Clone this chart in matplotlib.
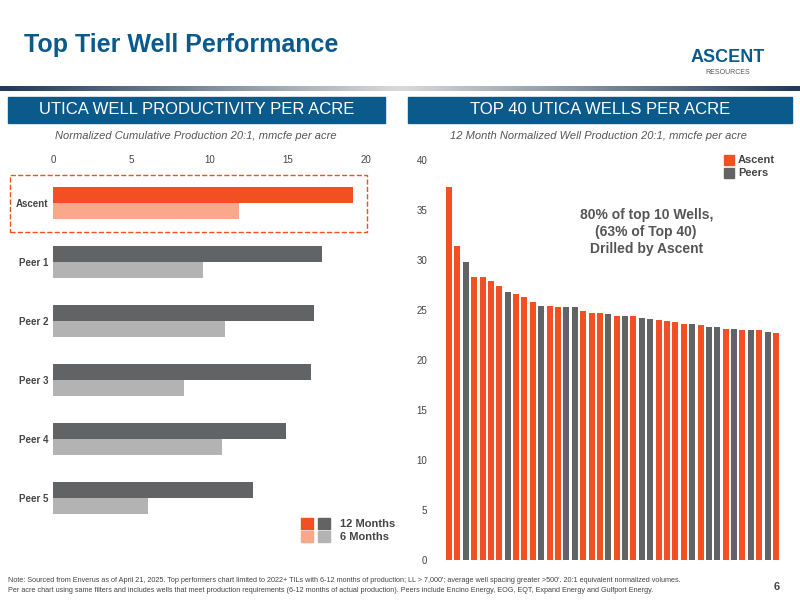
import matplotlib
matplotlib.use('Agg')
import matplotlib.pyplot as plt
import numpy as np
from matplotlib.patches import Rectangle

plt.rcParams['font.family'] = ['Liberation Sans', 'DejaVu Sans']

ORANGE = '#f25022'
LORANGE = '#f9a88c'
DGRAY = '#616365'
LGRAY = '#b3b3b3'
BLUE = '#0b5a8c'

# left chart
groups = ['Ascent', 'Peer 1', 'Peer 2', 'Peer 3', 'Peer 4', 'Peer 5']
m12 = [19.2, 17.2, 16.7, 16.5, 14.9, 12.8]
m6 = [11.9, 9.6, 11.0, 8.4, 10.8, 6.1]

# right chart
wells = [37.3, 31.4, 29.8, 28.3, 28.3, 27.9, 27.4, 26.8, 26.6, 26.3,
         25.8, 25.4, 25.4, 25.3, 25.3, 25.3, 24.9, 24.7, 24.7, 24.6,
         24.4, 24.4, 24.4, 24.2, 24.1, 24.0, 23.9, 23.8, 23.6, 23.6,
         23.5, 23.3, 23.3, 23.1, 23.1, 23.0, 23.0, 23.0, 22.8, 22.7]
owner = list('AAPAAAAPAAAPAAPPAAAPAPAPPAAAAPAPPAPAPAPA')

W, H = 800, 600
fig = plt.figure(figsize=(8, 6), dpi=100)

def ax_px(x0, y0, x1, y1):
    return fig.add_axes([x0 / W, 1 - y1 / H, (x1 - x0) / W, (y1 - y0) / H])

# header
fig.text(24 / W, 1 - 45 / H, 'Top Tier Well Performance', fontsize=18, fontweight='bold',
         color=BLUE, va='center')
fig.text(728 / W, 1 - 58 / H, 'ASCENT', fontsize=13, fontweight='bold', color=BLUE, ha='center', va='center')
fig.text(728 / W, 1 - 72 / H, 'RESOURCES', fontsize=5, color='#555555', ha='center', va='center')
gax = ax_px(0, 86, 800, 91)
grad = np.abs(np.linspace(-1, 1, 300))
gax.imshow(grad[None, :], aspect='auto', cmap=matplotlib.colors.LinearSegmentedColormap.from_list('g', ['#d9d9d9', '#1f3a5a']))
gax.axis('off')

for x0, x1, t in [(8, 385, 'UTICA WELL PRODUCTIVITY PER ACRE'), (408, 792, 'TOP 40 UTICA WELLS PER ACRE')]:
    fig.patches.append(Rectangle((x0 / W, 1 - 123 / H), (x1 - x0) / W, 26 / H, transform=fig.transFigure,
                                 color=BLUE))
    fig.text((x0 + x1) / 2 / W, 1 - 110 / H, t, fontsize=12, color='white', ha='center', va='center')
fig.text(196 / W, 1 - 136 / H, 'Normalized Cumulative Production 20:1, mmcfe per acre',
         fontsize=8, style='italic', color='#555555', ha='center', va='center')
fig.text(598 / W, 1 - 136 / H, '12 Month Normalized Well Production 20:1, mmcfe per acre',
         fontsize=8, style='italic', color='#555555', ha='center', va='center')

# left bar chart
ax = ax_px(53, 170, 380, 525)
y = np.arange(len(groups))
h = 0.27
for i in range(len(groups)):
    c1, c2 = (ORANGE, LORANGE) if i == 0 else (DGRAY, LGRAY)
    ax.barh(i - h / 2, m12[i], height=h, color=c1)
    ax.barh(i + h / 2, m6[i], height=h, color=c2)
ax.set_xlim(0, 20.9)
ax.set_ylim(len(groups) - 0.55, -0.55)
ax.set_yticks(y)
ax.set_yticklabels(groups, fontsize=7, fontweight='bold', color='#444444')
ax.set_xticks([0, 5, 10, 15, 20])
ax.xaxis.tick_top()
ax.tick_params(axis='both', length=0, labelsize=7, colors='#444444')
for s in ax.spines.values():
    s.set_visible(False)
fig.patches.append(Rectangle((10 / W, 1 - 232 / H), 357 / W, 57 / H, transform=fig.transFigure,
                             fill=False, ec=ORANGE, ls='--', lw=1))
# left legend
for k, (ca, cb, t) in enumerate([(ORANGE, DGRAY, '12 Months'), (LORANGE, LGRAY, '6 Months')]):
    yy = 524 + k * 13
    fig.patches.append(Rectangle((301 / W, 1 - (yy + 5) / H), 12 / W, 11 / H, transform=fig.transFigure, color=ca))
    fig.patches.append(Rectangle((318 / W, 1 - (yy + 5) / H), 12 / W, 11 / H, transform=fig.transFigure, color=cb))
    fig.text(340 / W, 1 - yy / H, t, fontsize=8, fontweight='bold', color='#444444', va='center')

# right bar chart
ax2 = ax_px(444, 160, 781, 560)
xs = np.arange(len(wells))
cols = [ORANGE if o == 'A' else DGRAY for o in owner]
ax2.bar(xs, wells, width=0.72, color=cols)
ax2.set_xlim(-0.6, len(wells) - 0.4)
ax2.set_ylim(0, 40)
ax2.set_yticks(range(0, 41, 5))
ax2.set_xticks([])
ax2.tick_params(axis='y', length=0, labelsize=7, colors='#444444', pad=12)
for s in ax2.spines.values():
    s.set_visible(False)
ax2.text(0.6, 0.82, '80% of top 10 Wells,\n(63% of Top 40)\nDrilled by Ascent', transform=ax2.transAxes,
         fontsize=10, fontweight='bold', color='#555555', ha='center', va='center', linespacing=1.3)
for k, (c, t) in enumerate([(ORANGE, 'Ascent'), (DGRAY, 'Peers')]):
    yy = 160 + k * 13
    fig.patches.append(Rectangle((724 / W, 1 - (yy + 5) / H), 10 / W, 10 / H, transform=fig.transFigure, color=c))
    fig.text(738 / W, 1 - yy / H, t, fontsize=8, fontweight='bold', color='#444444', va='center')

fig.text(8 / W, 1 - 581 / H, "Note: Sourced from Enverus as of April 21, 2025. Top performers chart limited to 2022+ TILs with 6-12 months of production; LL > 7,000'; average well spacing greater >500'. 20:1 equivalent normalized volumes.",
         fontsize=5.2, color='#444444', va='center')
fig.text(8 / W, 1 - 591 / H, "Per acre chart using same filters and includes wells that meet production requirements (6-12 months of actual production). Peers include Encino Energy, EOG, EQT, Expand Energy and Gulfport Energy.",
         fontsize=5.2, color='#444444', va='center')
fig.text(780 / W, 1 - 587 / H, '6', fontsize=8, fontweight='bold', color='#444444', ha='right', va='center')

fig.savefig('out.png', dpi=100)
